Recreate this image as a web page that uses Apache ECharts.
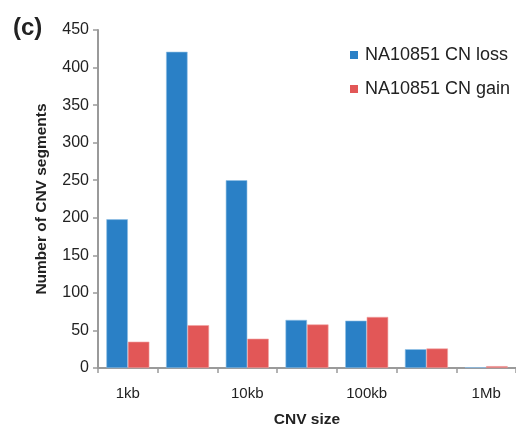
<!DOCTYPE html>
<html>
<head>
<meta charset="utf-8">
<script src="https://cdn.jsdelivr.net/npm/echarts@6/dist/echarts.min.js"></script>
<style>
  html, body { margin: 0; padding: 0; background: #fff; }
  #chart { width: 516px; height: 428px; }
</style>
</head>
<body>
<div id="chart"></div>
<script>
// CNV size bins (log-spaced), labelled every other bin
const sizeBins = ['1kb', 'b2', '10kb', 'b4', '100kb', 'b6', '1Mb'];
const tickLabels = ['1kb', '', '10kb', '', '100kb', '', '1Mb'];
const lossCounts = [198, 421, 250, 64, 63, 25, 1];
const gainCounts = [35, 57, 39, 58, 68, 26, 2.5];
const yTicks = { min: 0, max: 450, interval: 50 };

const font = 'Liberation Sans, Arial, Helvetica, sans-serif';
const axisGrey = '#9a9a9a';
const textColor = '#222';

const chart = echarts.init(document.getElementById('chart'), null, { renderer: 'canvas' });
chart.setOption({
  animation: false,
  backgroundColor: '#fff',
  textStyle: { fontFamily: font },
  title: {
    text: '(c)', left: 8, top: 11,
    textStyle: { fontSize: 24, fontWeight: 'bold', color: textColor, fontFamily: font }
  },
  legend: {
    orient: 'vertical', left: 345, top: 41,
    itemWidth: 8, itemHeight: 8, itemGap: 16,
    icon: 'rect',
    itemStyle: { borderWidth: 0 },
    textStyle: { fontSize: 18, color: textColor, fontFamily: font, padding: [0, 0, 0, 2] },
    data: ['NA10851 CN loss', 'NA10851 CN gain']
  },
  grid: {
    left: 98, right: 0, top: 30, bottom: 60,
    containLabel: false, outerBoundsMode: 'none'
  },
  xAxis: {
    type: 'category',
    data: sizeBins,
    name: 'CNV size', nameLocation: 'middle', nameGap: 44,
    nameTextStyle: { fontSize: 15.5, fontWeight: 'bold', color: textColor, fontFamily: font },
    axisLine: { lineStyle: { color: axisGrey, width: 2 } },
    axisTick: { show: true, length: 5, interval: 0, lineStyle: { color: axisGrey, width: 1.5 } },
    axisLabel: {
      interval: 0, margin: 18, fontSize: 15, color: textColor, fontFamily: font,
      formatter: (v, i) => tickLabels[i]
    }
  },
  yAxis: {
    type: 'value',
    min: yTicks.min, max: yTicks.max, interval: yTicks.interval,
    name: 'Number of CNV segments', nameLocation: 'middle', nameGap: 48,
    nameTextStyle: { fontSize: 15.5, fontWeight: 'bold', color: textColor, fontFamily: font },
    axisLine: { show: true, lineStyle: { color: axisGrey, width: 2 } },
    axisTick: { show: true, length: 5, lineStyle: { color: axisGrey, width: 1.5 } },
    splitLine: { show: false },
    axisLabel: { margin: 9, fontSize: 16, color: textColor, fontFamily: font }
  },
  series: [
    {
      name: 'NA10851 CN loss', type: 'bar', data: lossCounts,
      barGap: '0%', barCategoryGap: '28%',
      itemStyle: { color: '#2a80c6', borderColor: '#8fc0e6', borderWidth: 0.6 }
    },
    {
      name: 'NA10851 CN gain', type: 'bar', data: gainCounts,
      barGap: '0%', barCategoryGap: '28%',
      itemStyle: { color: '#e25757', borderColor: '#f2a3a3', borderWidth: 0.6 }
    }
  ]
});
</script>
</body>
</html>
